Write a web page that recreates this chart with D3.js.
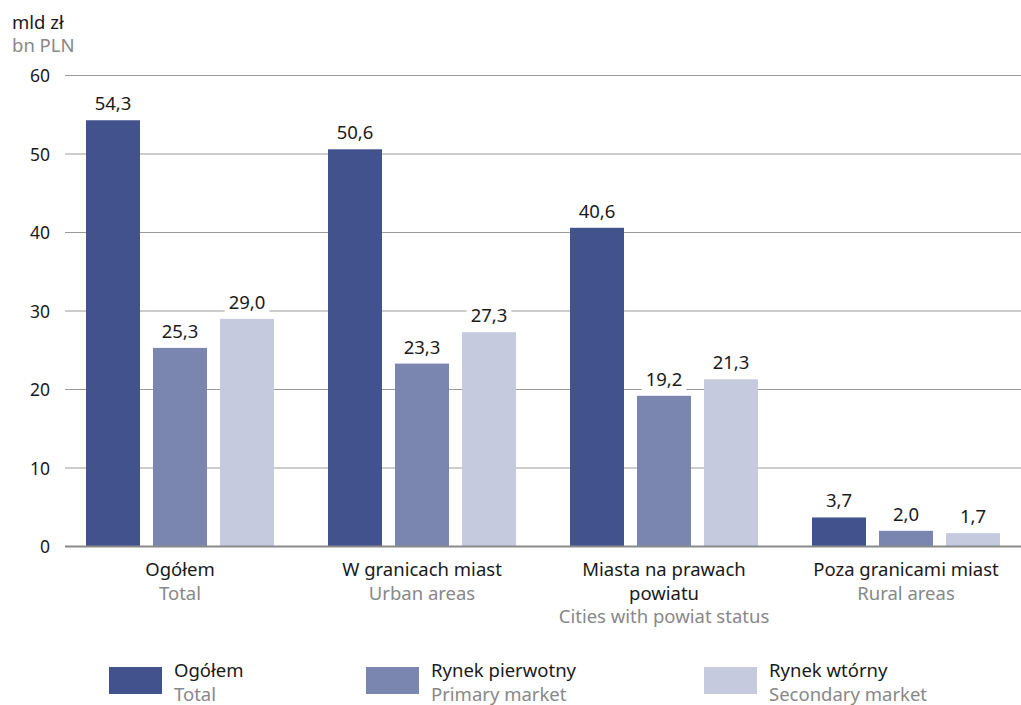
<!DOCTYPE html>
<html><head><meta charset="utf-8">
<script src="https://cdn.jsdelivr.net/npm/d3@7"></script>
<style>body{margin:0;background:#fff}svg{display:block}text{font-family:"Noto Sans",sans-serif}</style>
</head><body><svg id="c" width="1021" height="705"></svg>
<script>
const categoriesPL = [["Ogółem"],["W granicach miast"],["Miasta na prawach","powiatu"],["Poza granicami miast"]];
const categoriesEN = ["Total","Urban areas","Cities with powiat status","Rural areas"];
const seriesPL = ["Ogółem","Rynek pierwotny","Rynek wtórny"];
const seriesEN = ["Total","Primary market","Secondary market"];
const totalVals = [54.3,50.6,40.6,3.7];
const primaryVals = [25.3,23.3,19.2,2.0];
const secondaryVals = [29.0,27.3,21.3,1.7];
const yTicks = [0,10,20,30,40,50,60];
const colors = ["#42528c","#7a86b0","#c5cadf"];

const FS = 18.5;
const svg = d3.select("#c");
const y = d3.scaleLinear().domain([0,60]).range([546.5,75.5]);
const x0 = d3.scaleBand().domain(d3.range(4)).range([59,1027]);
const x1 = d3.scaleBand().domain(d3.range(3)).range([27,215]).paddingInner(13/67);
const series = [totalVals, primaryVals, secondaryVals];

// gridlines
svg.append("g").selectAll("line").data(yTicks.filter(d=>d>0)).join("line")
  .attr("x1",65).attr("x2",1021).attr("y1",d=>y(d)).attr("y2",d=>y(d))
  .attr("stroke","#9a9a9a").attr("stroke-width",1);
svg.append("g").selectAll("text").data(yTicks).join("text")
  .attr("x",50).attr("y",d=>y(d)+6.5).attr("text-anchor","end")
  .attr("font-size",17.5).attr("fill","#1a1a1a").text(d=>d);

// bars
const groups = svg.append("g").selectAll("g").data(d3.range(4)).join("g")
  .attr("transform",i=>`translate(${x0(i)},0)`);
groups.selectAll("rect").data(i=>series.map((s,k)=>({k,v:s[i]}))).join("rect")
  .attr("x",d=>x1(d.k)).attr("width",x1.bandwidth())
  .attr("y",d=>y(d.v)).attr("height",d=>y(0)-y(d.v)).attr("fill",d=>colors[d.k]);

// baseline
svg.append("line").attr("x1",65).attr("x2",1021).attr("y1",y(0)).attr("y2",y(0))
  .attr("stroke","#8a8a8a").attr("stroke-width",2);

// value labels
const lab = groups.selectAll("g.lab").data(i=>series.map((s,k)=>({k,v:s[i]}))).join("g").attr("class","lab");
lab.each(function(d){
  const g=d3.select(this);
  const cx=x1(d.k)+x1.bandwidth()/2, by=y(d.v)-10;
  const t=g.append("text").attr("x",cx).attr("y",by).attr("text-anchor","middle")
    .attr("font-size",FS).attr("fill","#1a1a1a").text(d3.format(".1f")(d.v).replace(".",","));
  const bb=t.node().getBBox();
  g.insert("rect","text").attr("x",bb.x-4).attr("y",bb.y+2).attr("width",bb.width+8).attr("height",bb.height-2).attr("fill","#fff");
});

// category labels
const cl = svg.append("g").selectAll("text").data(d3.range(4)).join("text")
  .attr("text-anchor","middle").attr("font-size",FS)
  .attr("transform",i=>`translate(${x0(i)+x0.bandwidth()/2},0)`);
cl.each(function(i){
  const t=d3.select(this);
  categoriesPL[i].forEach((s,j)=>t.append("tspan").attr("x",0).attr("y",576+23.5*j).attr("fill","#1a1a1a").text(s));
  t.append("tspan").attr("x",0).attr("y",576+23.5*categoriesPL[i].length).attr("fill","#888").text(categoriesEN[i]);
});

// axis title
svg.append("text").attr("x",12).attr("y",29).attr("font-size",FS).attr("fill","#1a1a1a").text("mld zł");
svg.append("text").attr("x",12).attr("y",52).attr("font-size",FS).attr("fill","#888").text("bn PLN");

// legend
const legX = [109,366,704];
const lg = svg.append("g").selectAll("g").data(d3.range(3)).join("g")
  .attr("transform",k=>`translate(${legX[k]},667)`);
lg.append("rect").attr("width",53).attr("height",27).attr("fill",k=>colors[k]);
lg.append("text").attr("x",65).attr("y",10).attr("font-size",FS).attr("fill","#1a1a1a").text(k=>seriesPL[k]);
lg.append("text").attr("x",65).attr("y",34).attr("font-size",FS).attr("fill","#888").text(k=>seriesEN[k]);
</script></body></html>
